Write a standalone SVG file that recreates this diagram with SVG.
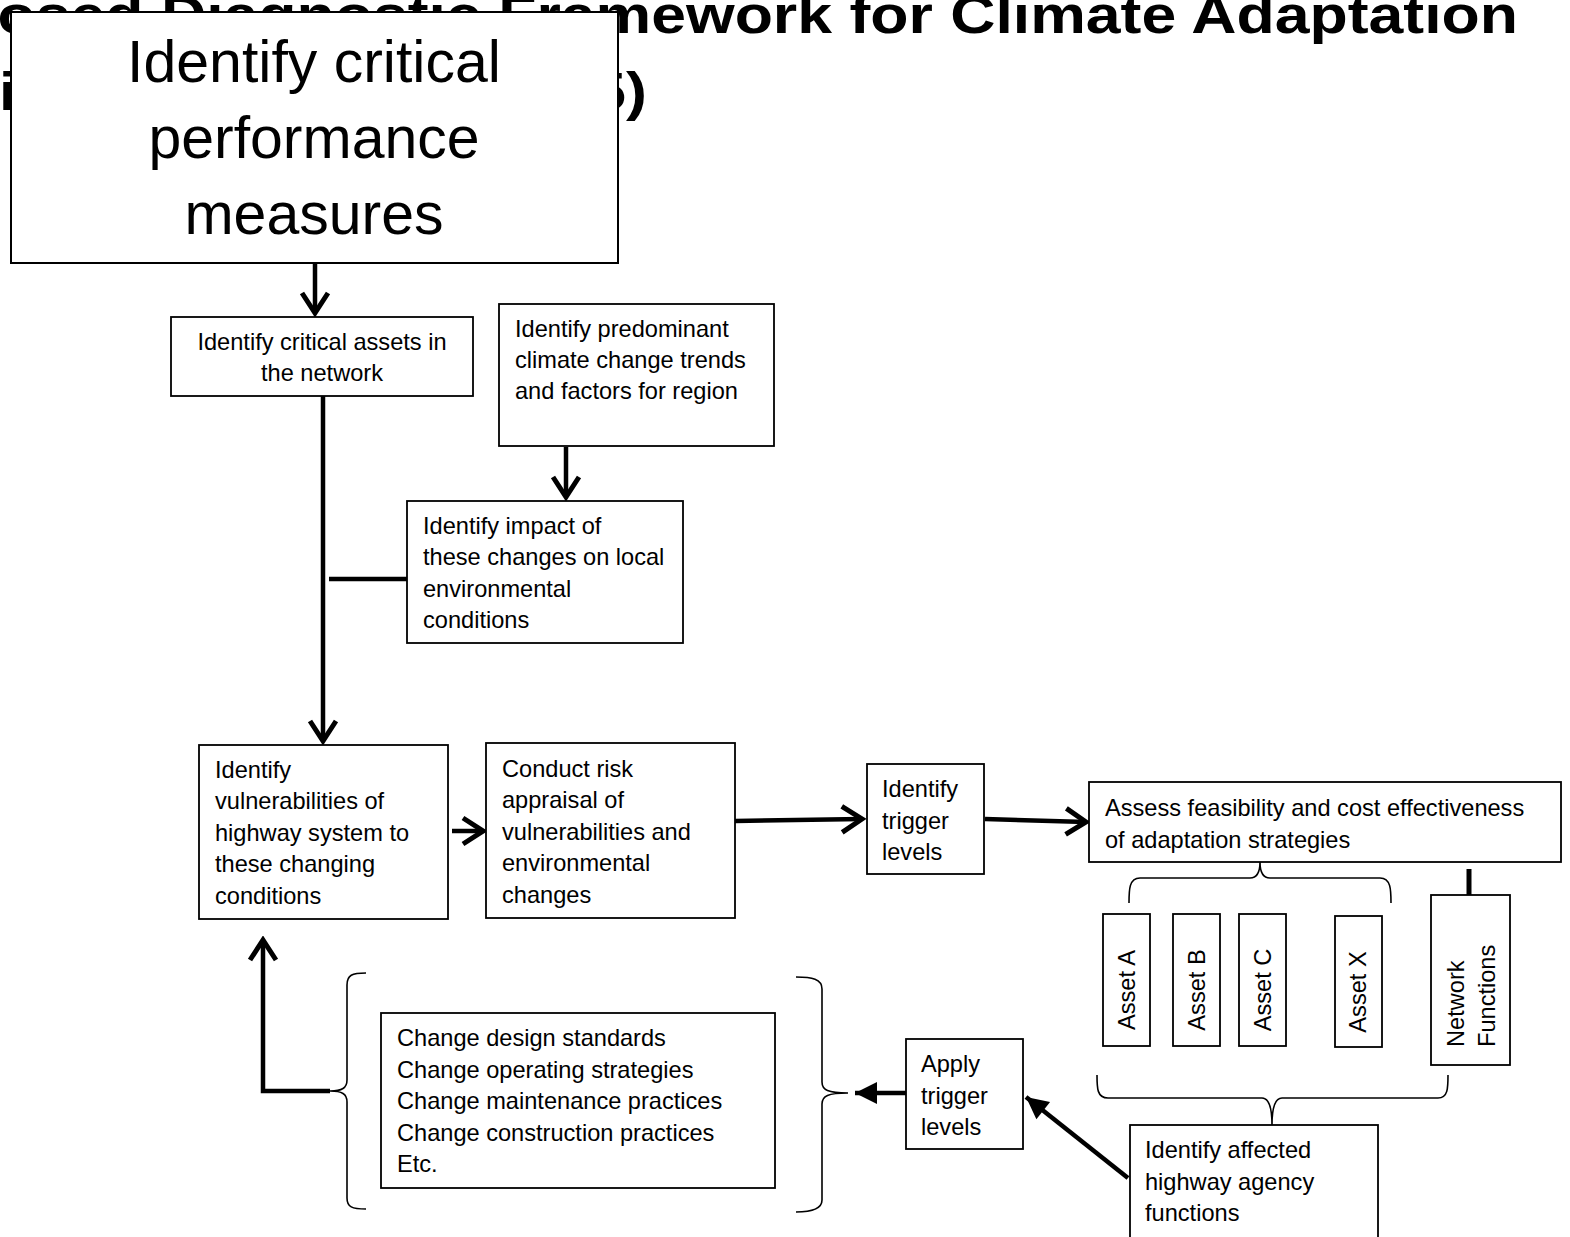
<svg xmlns="http://www.w3.org/2000/svg" width="1570" height="1237" viewBox="0 0 1570 1237">
<style>
.box{fill:#fff;stroke:#000;stroke-width:1.8}
.t{font-family:"Liberation Sans",Arial,sans-serif;font-size:23.6px;fill:#000}
.big{font-family:"Liberation Sans",Arial,sans-serif;font-size:59px;fill:#000}
.title{font-family:"Liberation Sans",Arial,sans-serif;font-size:53px;font-weight:bold;fill:#000}
.con{fill:none;stroke:#000;stroke-width:4.5}
.brace{fill:none;stroke:#000;stroke-width:1.6}
</style>
<defs>
<marker id="chev" markerUnits="userSpaceOnUse" viewBox="-27 -17 31 34" markerWidth="31" markerHeight="34" refX="0" refY="0" orient="auto">
<path d="M-20,-13 L0,0 L-20,13" fill="none" stroke="#000" stroke-width="5"/>
</marker>
<marker id="tri" markerUnits="userSpaceOnUse" viewBox="-26 -14 28 28" markerWidth="28" markerHeight="28" refX="0" refY="0" orient="auto">
<path d="M-22,-11 L0,0 L-22,11 Z" fill="#000"/>
</marker>
</defs>

<g id="title">
<text class="title" x="-145" y="33" textLength="1663" lengthAdjust="spacingAndGlyphs">Proposed Diagnostic Framework for Climate Adaptation</text>
<text class="title" x="-1" y="110" textLength="17" lengthAdjust="spacingAndGlyphs">i</text>
<text class="title" x="591" y="110" textLength="56" lengthAdjust="spacingAndGlyphs">5)</text>
</g>

<g id="connectors">
<path class="con" d="M315,263 L315,313" marker-end="url(#chev)"/>
<path class="con" d="M566,447 L566,497" marker-end="url(#chev)"/>
<path class="con" d="M323,396 L323,741" marker-end="url(#chev)"/>
<path class="con" d="M329,579 L407,579"/>
<path class="con" d="M452,831 L483,831" marker-end="url(#chev)"/>
<path class="con" d="M735,821 L862,819" marker-end="url(#chev)"/>
<path class="con" d="M985,819 L1086,822" marker-end="url(#chev)"/>
<path class="con" d="M1469,869 L1469,900" style="stroke-width:5"/>
<path class="con" d="M1128,1178 L1026,1097" marker-end="url(#tri)"/>
<path class="con" d="M906,1093 L855,1093" marker-end="url(#tri)"/>
<path class="con" d="M330,1091 L263,1091 L263,940" marker-end="url(#chev)"/>
<path class="brace" d="M1129,903 C1129,890 1129,878 1140,878 L1250,878 C1257,878 1260,872 1260,862 C1260,872 1263,878 1270,878 L1380,878 C1391,878 1391,890 1391,903"/>
<path class="brace" d="M1097,1075 C1097,1088 1097,1098 1108,1098 L1262,1098 C1268,1098 1272,1104 1272,1125 C1272,1104 1276,1098 1282,1098 L1438,1098 C1448,1098 1448,1088 1448,1075"/>
<path class="brace" d="M366,973 C352,973 347,975 347,985 L347,1080 C347,1088 342,1091 330,1091 C342,1091 347,1094 347,1102 L347,1198 C347,1207 352,1209 366,1209"/>
<path class="brace" d="M796,977 C812,977 822,979 822,989 L822,1082 C822,1090 828,1093 848,1093 C828,1093 822,1096 822,1104 L822,1200 C822,1209 812,1212 796,1212"/>
</g>

<g id="n-performance">
<rect class="box" x="11" y="12" width="607" height="251" style="stroke-width:2"/>
<text class="big" text-anchor="middle"><tspan x="314" y="82">Identify critical</tspan><tspan x="314" y="158">performance</tspan><tspan x="314" y="234">measures</tspan></text>
</g>

<g id="n-assets">
<rect class="box" x="171" y="317" width="302" height="79"/>
<text class="t" text-anchor="middle"><tspan x="322" y="350">Identify critical assets in</tspan><tspan x="322" y="381">the network</tspan></text>
</g>

<g id="n-trends">
<rect class="box" x="499" y="304" width="275" height="142"/>
<text class="t"><tspan x="515" y="337">Identify predominant</tspan><tspan x="515" y="368">climate change trends</tspan><tspan x="515" y="399">and factors for region</tspan></text>
</g>

<g id="n-impact">
<rect class="box" x="407" y="501" width="276" height="142"/>
<text class="t"><tspan x="423" y="534">Identify impact of</tspan><tspan x="423" y="565">these changes on local</tspan><tspan x="423" y="597">environmental</tspan><tspan x="423" y="628">conditions</tspan></text>
</g>

<g id="n-vulner">
<rect class="box" x="199" y="745" width="249" height="174"/>
<text class="t"><tspan x="215" y="778">Identify</tspan><tspan x="215" y="809">vulnerabilities of</tspan><tspan x="215" y="841">highway system to</tspan><tspan x="215" y="872">these changing</tspan><tspan x="215" y="904">conditions</tspan></text>
</g>

<g id="n-risk">
<rect class="box" x="486" y="743" width="249" height="175"/>
<text class="t"><tspan x="502" y="777">Conduct risk</tspan><tspan x="502" y="808">appraisal of</tspan><tspan x="502" y="840">vulnerabilities and</tspan><tspan x="502" y="871">environmental</tspan><tspan x="502" y="903">changes</tspan></text>
</g>

<g id="n-trigger">
<rect class="box" x="867" y="764" width="117" height="110"/>
<text class="t"><tspan x="882" y="797">Identify</tspan><tspan x="882" y="829">trigger</tspan><tspan x="882" y="860">levels</tspan></text>
</g>

<g id="n-assess">
<rect class="box" x="1089" y="782" width="472" height="80"/>
<text class="t"><tspan x="1105" y="816">Assess feasibility and cost effectiveness</tspan><tspan x="1105" y="848">of adaptation strategies</tspan></text>
</g>

<g id="n-assetA">
<rect class="box" x="1103" y="914" width="47" height="132"/>
<text class="t" text-anchor="middle" transform="translate(1135,990) rotate(-90)" x="0" y="0">Asset A</text>
</g>
<g id="n-assetB">
<rect class="box" x="1173" y="914" width="47" height="132"/>
<text class="t" text-anchor="middle" transform="translate(1205,990) rotate(-90)" x="0" y="0">Asset B</text>
</g>
<g id="n-assetC">
<rect class="box" x="1239" y="914" width="47" height="132"/>
<text class="t" text-anchor="middle" transform="translate(1271,990) rotate(-90)" x="0" y="0">Asset C</text>
</g>
<g id="n-assetX">
<rect class="box" x="1335" y="916" width="47" height="131"/>
<text class="t" text-anchor="middle" transform="translate(1366,992) rotate(-90)" x="0" y="0">Asset X</text>
</g>
<g id="n-network">
<rect class="box" x="1431" y="895" width="79" height="170"/>
<text class="t" transform="translate(1464,1047) rotate(-90)"><tspan x="0" y="0">Network</tspan><tspan x="0" y="31">Functions</tspan></text>
</g>

<g id="n-changes">
<rect class="box" x="381" y="1013" width="394" height="175"/>
<text class="t"><tspan x="397" y="1046">Change design standards</tspan><tspan x="397" y="1078">Change operating strategies</tspan><tspan x="397" y="1109">Change maintenance practices</tspan><tspan x="397" y="1141">Change construction practices</tspan><tspan x="397" y="1172">Etc.</tspan></text>
</g>

<g id="n-apply">
<rect class="box" x="906" y="1039" width="117" height="110"/>
<text class="t"><tspan x="921" y="1072">Apply</tspan><tspan x="921" y="1104">trigger</tspan><tspan x="921" y="1135">levels</tspan></text>
</g>

<g id="n-affected">
<rect class="box" x="1130" y="1125" width="248" height="130"/>
<text class="t"><tspan x="1145" y="1158">Identify affected</tspan><tspan x="1145" y="1190">highway agency</tspan><tspan x="1145" y="1221">functions</tspan></text>
</g>
</svg>
